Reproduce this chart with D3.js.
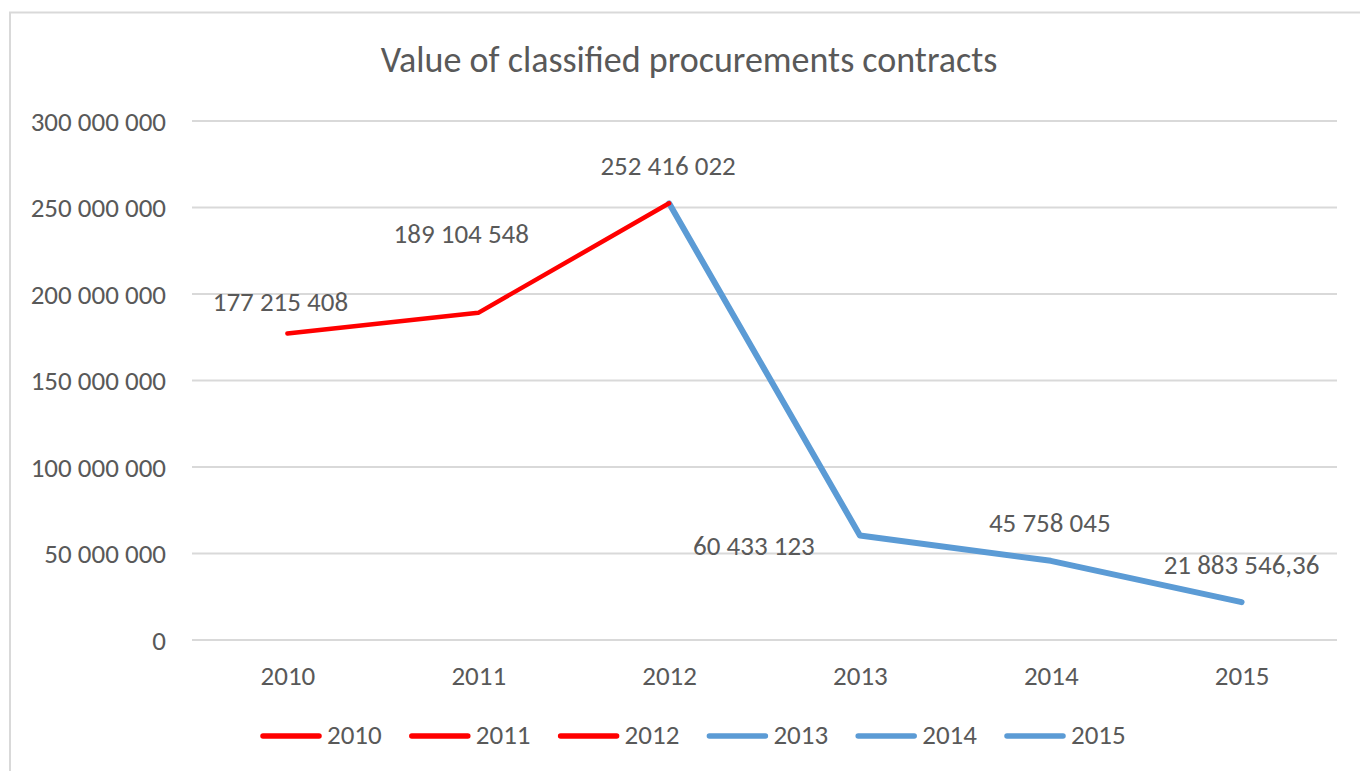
<!DOCTYPE html>
<html><head><meta charset="utf-8">
<script src="https://cdn.jsdelivr.net/npm/d3@7"></script>
<style>
html,body{margin:0;padding:0;background:#fff;}
svg{display:block;}
svg text{font-family:Carlito,"Liberation Sans Narrow",Lato,"Open Sans",sans-serif;}
</style></head>
<body>
<svg id="chart" width="1360" height="771"></svg>
<script>
const title = "Value of classified procurements contracts";
const years = ["2010","2011","2012","2013","2014","2015"];
const values = [177215408, 189104548, 252416022, 60433123, 45758045, 21883546.36];
const labels = ["177 215 408","189 104 548","252 416 022","60 433 123","45 758 045","21 883 546,36"];
const yTicks = [0, 50000000, 100000000, 150000000, 200000000, 250000000, 300000000];
const redYears = ["2010","2011","2012"];
const blueYears = ["2012","2013","2014","2015"];
const legendItems = ["2010","2011","2012","2013","2014","2015"];
const legendColors = ["#FF0000","#FF0000","#FF0000","#5B9BD5","#5B9BD5","#5B9BD5"];
// label offsets (px) relative to point (baseline)
const labelDx = [-7, -17, -1, -106, -1, 0];
const labelDy = [-22, -70, -28, 19.5, -29, -28];

const svg = d3.select("#chart");
const textColor = "#595959";

// frame
svg.append("line").attr("x1",9).attr("x2",1360).attr("y1",12.5).attr("y2",12.5).attr("stroke","#d9d9d9").attr("stroke-width",2);
svg.append("line").attr("x1",10).attr("x2",10).attr("y1",12).attr("y2",771).attr("stroke","#d9d9d9").attr("stroke-width",2);

const x = d3.scalePoint().domain(years).range([192,1337]).padding(0.5);
const y = d3.scaleLinear().domain([0,300000000]).range([640,121]);

const fmt = d => d3.format(",")(d).replace(/,/g," ");

// gridlines
svg.append("g").selectAll("line").data(yTicks).join("line")
  .attr("x1",192).attr("x2",1337)
  .attr("y1",d=>y(d)).attr("y2",d=>y(d))
  .attr("stroke","#d9d9d9").attr("stroke-width",2);

// y axis labels
const yAxis = d3.axisLeft(y).tickValues(yTicks).tickFormat(fmt).tickSize(0).tickPadding(0);
const gy = svg.append("g").attr("transform","translate(166,0)").call(yAxis);
gy.attr("font-family",null).attr("font-size",null);
gy.select(".domain").remove();
gy.selectAll("text").attr("font-size",27).attr("fill",textColor).attr("dy","0.34em");

// x axis labels
const xAxis = d3.axisBottom(x).tickSize(0).tickPadding(0);
const gx = svg.append("g").attr("transform","translate(0,685)").call(xAxis);
gx.attr("font-family",null).attr("font-size",null);
gx.select(".domain").remove();
gx.selectAll("text").attr("font-size",27).attr("fill",textColor).attr("dy",0);

// title
svg.append("text").attr("x",689).attr("y",72).attr("text-anchor","middle")
  .attr("font-size",36).attr("fill",textColor).text(title);

const line = d3.line().x(d=>x(d)).y(d=>y(values[years.indexOf(d)]));

svg.append("path").datum(blueYears).attr("d",line).attr("fill","none")
  .attr("stroke","#5B9BD5").attr("stroke-width",6).attr("stroke-linecap","round").attr("stroke-linejoin","round");
svg.append("path").datum(redYears).attr("d",line).attr("fill","none")
  .attr("stroke","#FF0000").attr("stroke-width",4.5).attr("stroke-linecap","round").attr("stroke-linejoin","round");

// data labels
svg.append("g").selectAll("text").data(years).join("text")
  .attr("x",(d,i)=>x(d)+labelDx[i])
  .attr("y",(d,i)=>y(values[i])+labelDy[i])
  .attr("text-anchor","middle").attr("font-size",27).attr("fill",textColor)
  .text((d,i)=>labels[i]);

// legend
const lg = svg.append("g");
const legX = d3.scalePoint().domain(legendItems).range([261,1005]);
const items = lg.selectAll("g").data(legendItems).join("g")
  .attr("transform",d=>`translate(${legX(d)},736)`);
items.append("line").attr("x1",2).attr("x2",58).attr("y1",0).attr("y2",0)
  .attr("stroke",(d,i)=>legendColors[i]).attr("stroke-width",5.5).attr("stroke-linecap","round");
items.append("text").attr("x",66).attr("y",8).attr("font-size",27).attr("fill",textColor).text(d=>d);
</script>
</body></html>
